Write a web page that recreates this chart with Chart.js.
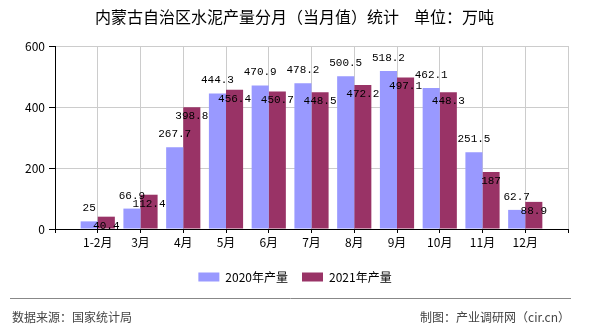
<!DOCTYPE html>
<html>
<head>
<meta charset="utf-8">
<script src="https://cdn.jsdelivr.net/npm/chart.js@4"></script>
<style>
  html, body { margin: 0; padding: 0; background: #fff; }
  #wrap { width: 590px; height: 330px; position: relative; }
</style>
</head>
<body>
<div id="wrap"><canvas id="chart-bar"></canvas></div>
<script>
// months, padded with an empty slot on each side like the original
const months = ['1-2月', '3月', '4月', '5月', '6月', '7月', '8月', '9月', '10月', '11月', '12月'];
const output2020 = [25, 66.9, 267.7, 444.3, 470.9, 478.2, 500.5, 518.2, 462.1, 251.5, 62.7];
const output2021 = [40.4, 112.4, 398.8, 456.4, 450.7, 448.5, 472.2, 497.1, 448.3, 187, 88.9];
const seriesNames = ['2020年产量', '2021年产量'];
const yTicks = [0, 200, 400, 600];

const titleMain = '内蒙古自治区水泥产量分月（当月值）统计';
const titleUnit = '单位：万吨';
const sourceText = '数据来源：国家统计局';
const makerText = '制图：产业调研网（cir.cn）';

const FONT = '"Noto Sans CJK SC", "Noto Sans", sans-serif';

const pad = arr => [null, ...arr, null];

// value labels: 2020 above the bar, 2021 just under the top edge
const valueLabels = {
  id: 'valueLabels',
  afterDatasetsDraw(chart) {
    const ctx = chart.ctx;
    ctx.save();
    ctx.font = '11px "Liberation Mono", "DejaVu Sans Mono", monospace';
    ctx.fillStyle = '#000';
    ctx.textAlign = 'center';
    ctx.textBaseline = 'middle';
    chart.data.datasets.forEach((ds, i) => {
      const meta = chart.getDatasetMeta(i);
      meta.data.forEach((bar, j) => {
        const v = ds.data[j];
        if (v == null) return;
        const dy = i === 0 ? -13 : 9;
        ctx.fillText(String(v), bar.x, bar.y + dy);
      });
    });
    ctx.restore();
  }
};

const titleAndFooter = {
  id: 'titleAndFooter',
  afterDraw(chart) {
    const ctx = chart.ctx;
    ctx.save();
    ctx.fillStyle = '#000';
    ctx.font = '16px ' + FONT;
    ctx.textAlign = 'left';
    ctx.textBaseline = 'middle';
    ctx.fillText(titleMain, 95, 17);
    ctx.fillText(titleUnit, 414, 17);

    ctx.strokeStyle = '#888';
    ctx.lineWidth = 1;
    ctx.beginPath();
    ctx.moveTo(10, 298.5);
    ctx.lineTo(571, 298.5);
    ctx.stroke();

    ctx.fillStyle = '#444';
    ctx.font = '12px ' + FONT;
    ctx.fillText(sourceText, 12, 317);
    ctx.textAlign = 'right';
    ctx.fillText(makerText, 570, 317);
    ctx.restore();
  }
};

function renderChart() {
  const ctxBar = document.getElementById('chart-bar');
  new Chart(ctxBar, {
    type: 'bar',
    data: {
      labels: ['', ...months, ''],
      datasets: [{
        label: seriesNames[0],
        data: pad(output2020),
        backgroundColor: '#9999ff',
        categoryPercentage: 0.8,
        barPercentage: 1.0
      }, {
        label: seriesNames[1],
        data: pad(output2021),
        backgroundColor: '#993366',
        categoryPercentage: 0.8,
        barPercentage: 1.0
      }]
    },
    options: {
      responsive: true,
      maintainAspectRatio: false,
      animation: false,
      // symmetric side padding keeps the legend centred on the page
      layout: { padding: { top: 46, right: 22, bottom: 37, left: 22 } },
      plugins: {
        legend: {
          position: 'bottom',
          labels: {
            boxWidth: 21,
            boxHeight: 9,
            padding: 14,
            color: '#000',
            font: { size: 12, family: FONT }
          }
        },
        tooltip: { enabled: false }
      },
      scales: {
        x: {
          offset: false,
          grid: { offset: false, color: '#cccccc', tickLength: 4, tickColor: '#000' },
          border: { color: '#000' },
          ticks: { color: '#000', font: { size: 12, family: FONT }, maxRotation: 0, autoSkip: false, padding: 2 },
          afterFit(scale) { scale.height = 28; }
        },
        y: {
          min: 0,
          max: 600,
          afterBuildTicks(scale) { scale.ticks = yTicks.map(v => ({ value: v })); },
          grid: { color: '#cccccc', tickLength: 6, tickColor: '#000' },
          border: { color: '#000' },
          ticks: { color: '#000', font: { size: 12, family: FONT }, padding: 4 },
          afterFit(scale) { scale.width = 33; }
        }
      }
    },
    plugins: [valueLabels, titleAndFooter]
  });
}

renderChart();
</script>
</body>
</html>
